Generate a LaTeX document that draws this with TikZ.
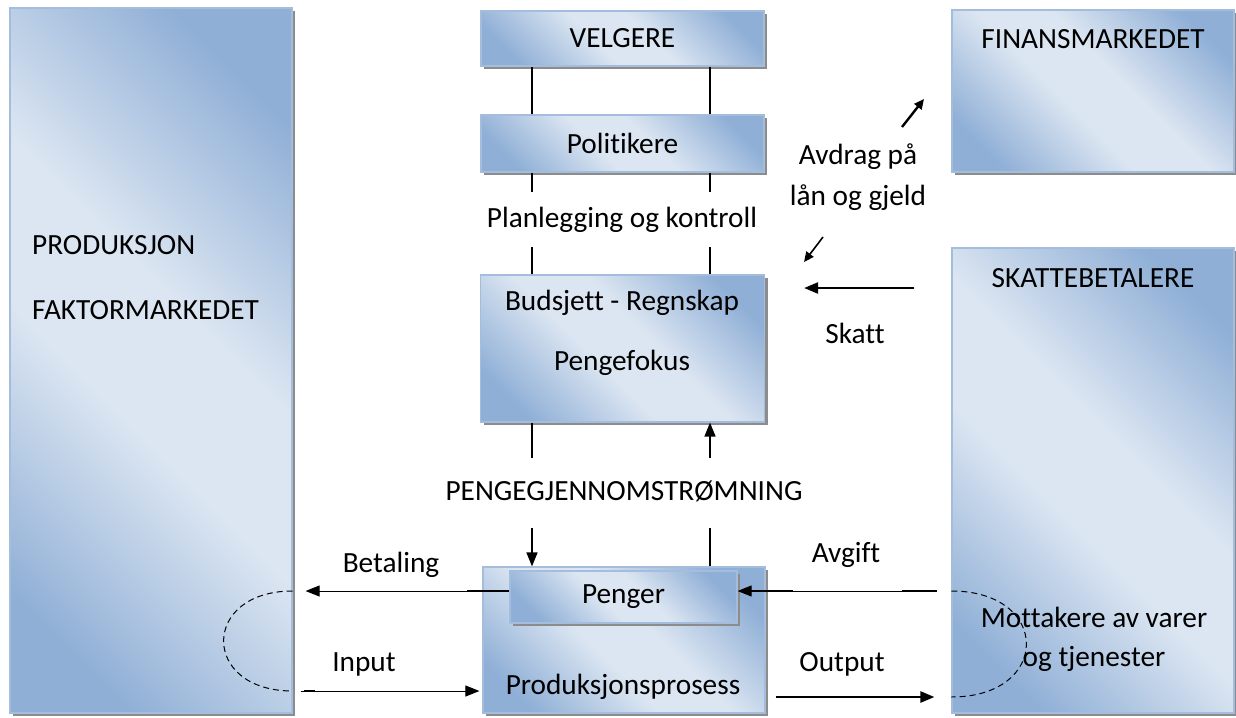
\documentclass[tikz,border=0pt]{standalone}
\usepackage{fontspec}
\setmainfont{Carlito}[Ligatures={NoCommon}]
\usetikzlibrary{arrows.meta,shadows,calc}
\definecolor{bdark}{HTML}{8FAFD6}
\definecolor{blight}{HTML}{DCE6F2}
\definecolor{bborder}{HTML}{A5BDDC}
\definecolor{shadowgray}{HTML}{8C8C8C}
\pgfdeclarehorizontalshading{wordshade}{100bp}{color(0bp)=(bdark); color(23bp)=(bdark); color(44bp)=(blight); color(56bp)=(blight); color(77bp)=(bdark); color(100bp)=(bdark)}
\begin{document}
\begin{tikzpicture}[x=1pt,y=-1pt,
  font=\fontsize{29.3}{35}\selectfont,
  box/.style={draw=bborder, line width=1.2pt, rectangle, inner sep=0pt,
    shading=wordshade, shading angle=45,
    drop shadow={shadow xshift=3pt, shadow yshift=-3pt, fill=shadowgray, opacity=1}},
  lbl/.style={inner sep=0pt},
  conn/.style={line width=1.5pt},
  thinline/.style={line width=1pt},
  thickline/.style={line width=2.4pt},
  tip/.style={-{Triangle[length=14pt,width=11pt]}},
  smalltip/.style={-{Triangle[length=10pt,width=9pt]}},
  dashcurve/.style={line width=1pt, dash pattern=on 6pt off 4pt},
]
\useasboundingbox[fill=white] (0,0) rectangle (1236,717);

% boxes
\node[box, minimum width=282pt, minimum height=705pt] (prod) at (151,360.5) {};
\node[box, minimum width=283pt, minimum height=55pt] (velg) at (622.5,38.5) {VELGERE};
\node[box, minimum width=283pt, minimum height=57pt] (pol) at (622.5,143.5) {Politikere};
\node[box, minimum width=284pt, minimum height=147pt] (bud) at (622.5,348.5) {};
\node[box, minimum width=282pt, minimum height=146pt] (prs) at (624,640) {};
\node[box, minimum width=227pt, minimum height=52pt] (peng) at (623.5,597) {Penger};
\node[box, minimum width=282pt, minimum height=162pt] (fin) at (1093,91) {};
\node[box, minimum width=282pt, minimum height=465pt] (skb) at (1093,480.5) {};

% texts
\node[lbl, anchor=west] (prodt1) at (32,245) {PRODUKSJON};
\node[lbl, anchor=west] (prodt2) at (32,310) {FAKTORMARKEDET};
\node[lbl] (plan) at (622,220) {Planlegging og kontroll};
\node[lbl] (budt1) at (622,303) {Budsjett - Regnskap};
\node[lbl] (budt2) at (622,363) {Pengefokus};
\node[lbl] (flow) at (624,491) {PENGEGJENNOMSTRØMNING};
\node[lbl] (prst) at (623,687) {Produksjonsprosess};
\node[lbl] (fint) at (1093,39) {FINANSMARKEDET};
\node[lbl] (skbt) at (1093,278) {SKATTEBETALERE};
\node[lbl] (avd1) at (858,157) {Avdrag på};
\node[lbl] (avd2) at (858,198) {lån og gjeld};
\node[lbl] (skatt) at (855,333) {Skatt};
\node[lbl] (betal) at (391,565) {Betaling};
\node[lbl] (input) at (364,664) {Input};
\node[lbl] (avgift) at (846,555) {Avgift};
\node[lbl] (output) at (842,664) {Output};

% helper coordinates
\coordinate (cl) at (532,0);
\coordinate (cr) at (710,0);
\coordinate (g1) at (0,192);
\coordinate (g2) at (0,247);
\coordinate (g3) at (0,458);
\coordinate (g4) at (0,528);
\coordinate (ybet) at (0,591);
\coordinate (yin) at (0,691);
\coordinate (yout) at (0,697);
\coordinate (ysk) at (0,288);
\coordinate (ne1) at (902,127);
\coordinate (ne2) at (924,99);
\coordinate (sw1) at (823,237);
\coordinate (sw2) at (804,262);

% vertical connectors
\draw[conn] (velg.south -| cl) -- (pol.north -| cl);
\draw[conn] (velg.south -| cr) -- (pol.north -| cr);
\draw[conn] (pol.south -| cl) -- (cl |- g1);
\draw[conn] (pol.south -| cr) -- (cr |- g1);
\draw[conn] (cl |- g2) -- (bud.north -| cl);
\draw[conn] (cr |- g2) -- (bud.north -| cr);
\draw[conn] (bud.south -| cl) -- (cl |- g3);
\draw[conn,tip] (cr |- g3) -- (bud.south -| cr);
\draw[conn,tip] (cl |- g4) -- (prs.north -| cl);
\draw[conn] (cr |- g4) -- (prs.north -| cr);

% Betaling
\draw[thinline,tip,shorten >=13pt] (peng.west |- ybet) -- (prod.east |- ybet);
\draw[thickline] ($(prs.west |- ybet)+(-15,0)$) -- (peng.west |- ybet);
% Input
\draw[thinline,tip,shorten <=8pt,shorten >=3pt] (prod.east |- yin) -- (prs.west |- yin);
\draw[thickline] ($(prod.east |- yin)+(11,0)$) -- ++(11,0);
% Avgift
\draw[thinline,tip,shorten <=15pt] (skb.west |- ybet) -- (peng.east |- ybet);
\draw[thickline] ($(peng.east |- ybet)+(12,0)$) -- ($(prs.east |- ybet)+(27,0)$);
\draw[thickline] ($(skb.west |- ybet)+(-49,0)$) -- ($(skb.west |- ybet)+(-14,0)$);
% Output
\draw[thickline,tip,shorten <=10pt,shorten >=17pt] (prs.east |- yout) -- (skb.west |- yout);
% Skatt
\draw[thickline,tip,shorten <=37pt,shorten >=39pt] (skb.west |- ysk) -- (bud.east |- ysk);
% Avdrag
\draw[thickline,smalltip] (ne1) -- (ne2);
\draw[line width=1.6pt,smalltip] (sw1) -- (sw2);

% dashed loops
\draw[dashcurve] (prod.east |- ybet) .. controls +(-92,0) and +(-92,0) .. (prod.east |- yin);
\draw[dashcurve] (skb.west |- ybet) .. controls +(100,0) and +(100,0) .. (skb.west |- yout);

\node[lbl] (mot1) at (1094,617) {Mottakere av varer};
\node[lbl] (mot2) at (1094,659) {og tjenester};
\end{tikzpicture}
\end{document}
